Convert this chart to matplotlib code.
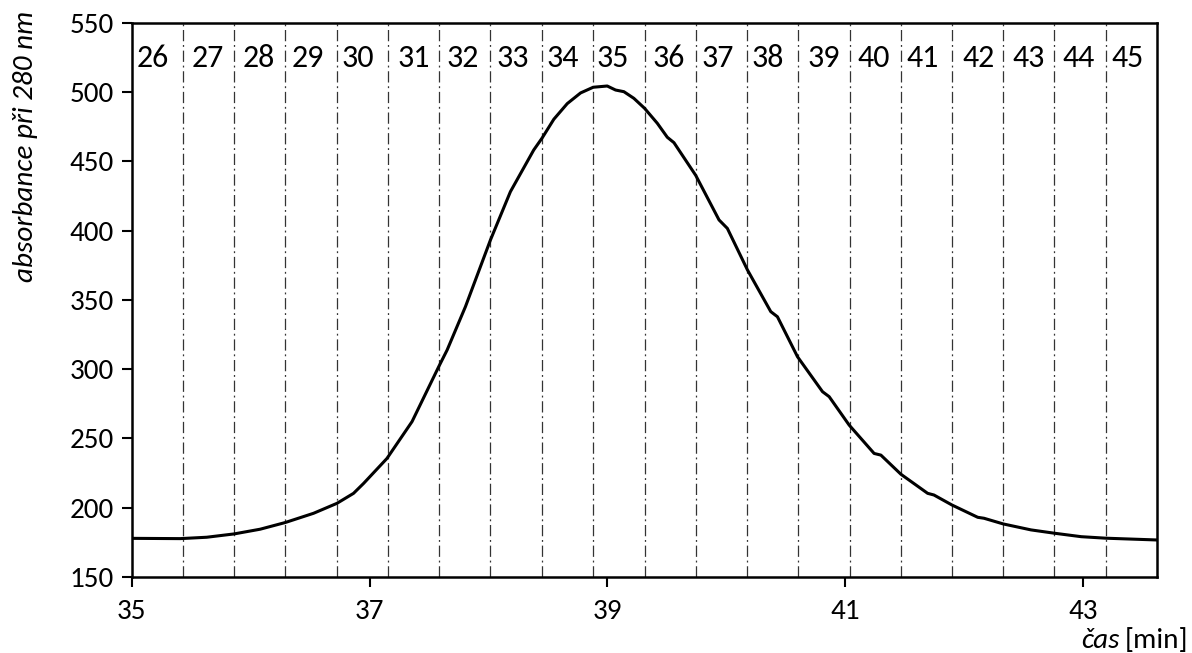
import matplotlib
matplotlib.use("Agg")
import matplotlib.pyplot as plt

plt.rcParams["font.family"] = ["Carlito", "Lato", "DejaVu Sans"]

# absorbance curve
time_min = [35.0, 35.407, 35.631, 35.861, 36.080, 36.290, 36.529, 36.726, 36.865,
            36.950, 37.146, 37.357, 37.581, 37.652, 37.806, 38.016, 38.184, 38.380,
            38.451, 38.549, 38.662, 38.774, 38.880, 38.998, 39.068, 39.138, 39.222,
            39.312, 39.419, 39.503, 39.559, 39.742, 39.938, 40.008, 40.177, 40.373,
            40.429, 40.598, 40.808, 40.864, 41.032, 41.242, 41.299, 41.467, 41.692,
            41.745, 41.896, 42.113, 42.166, 42.328, 42.561, 42.758, 42.983, 43.193,
            43.628]
absorbance = [177.9, 177.7, 178.7, 181.1, 184.5, 189.3, 196.0, 203.2, 210.4,
              217.6, 235.6, 262.2, 301.8, 313.9, 345.2, 393.3, 428.2, 458.3,
              467.0, 480.5, 491.8, 499.5, 503.6, 504.5, 501.6, 500.4, 495.6,
              488.4, 477.6, 467.5, 463.6, 440.0, 407.8, 401.7, 371.7, 341.6,
              337.9, 309.0, 283.8, 280.2, 259.7, 239.2, 238.0, 224.2, 210.4,
              209.2, 202.0, 193.1, 192.4, 188.3, 184.0, 181.6, 179.1, 178.0,
              176.7]

# fraction boundaries (min) and fraction numbers
boundaries = [35.429, 35.861, 36.290, 36.728, 37.157, 37.587, 38.016, 38.449,
              38.880, 39.312, 39.741, 40.170, 40.603, 41.035, 41.464, 41.896,
              42.325, 42.757, 43.193]
fractions = list(range(26, 46))
label_x = [35.175, 35.641, 36.067, 36.480, 36.901, 37.368, 37.785, 38.205,
           38.626, 39.043, 39.514, 39.931, 40.348, 40.817, 41.238, 41.652,
           42.124, 42.543, 42.961, 43.376]

fig = plt.figure(figsize=(11.92, 6.53), dpi=100)
ax = fig.add_axes([0.1105, 0.1164, 0.8601, 0.8484])

for b in boundaries:
    ax.axvline(b, color="#333333", lw=0.9, linestyle=(0, (9, 3, 1.5, 3)), zorder=1)

ax.plot(time_min, absorbance, color="black", lw=2.2, zorder=3,
        solid_joinstyle="round")

for x, f in zip(label_x, fractions):
    ax.text(x, 525, str(f), ha="center", va="center", fontsize=23)

ax.set_xlim(35, 43.62)
ax.set_ylim(150, 550)
ax.set_xticks([35, 37, 39, 41, 43])
ax.set_yticks(range(150, 551, 50))
ax.tick_params(labelsize=21, length=7, width=1.5, direction="out")
ax.tick_params(axis="y", pad=6)
ax.tick_params(axis="x", pad=9)
for s in ax.spines.values():
    s.set_linewidth(1.8)

fig.text(0.021, 0.775, "absorbance při 280 nm", rotation=90, style="italic",
         ha="center", va="center", fontsize=21)

t2 = fig.text(0.9966, 0.008, "[min]", ha="right", va="baseline", fontsize=21)
fig.canvas.draw()
bb = t2.get_window_extent()
fig.text((bb.x0 - 5) / fig.bbox.width, 0.008, "čas", ha="right", va="baseline",
         fontsize=21, style="italic")

fig.savefig("out.png", dpi=100)
